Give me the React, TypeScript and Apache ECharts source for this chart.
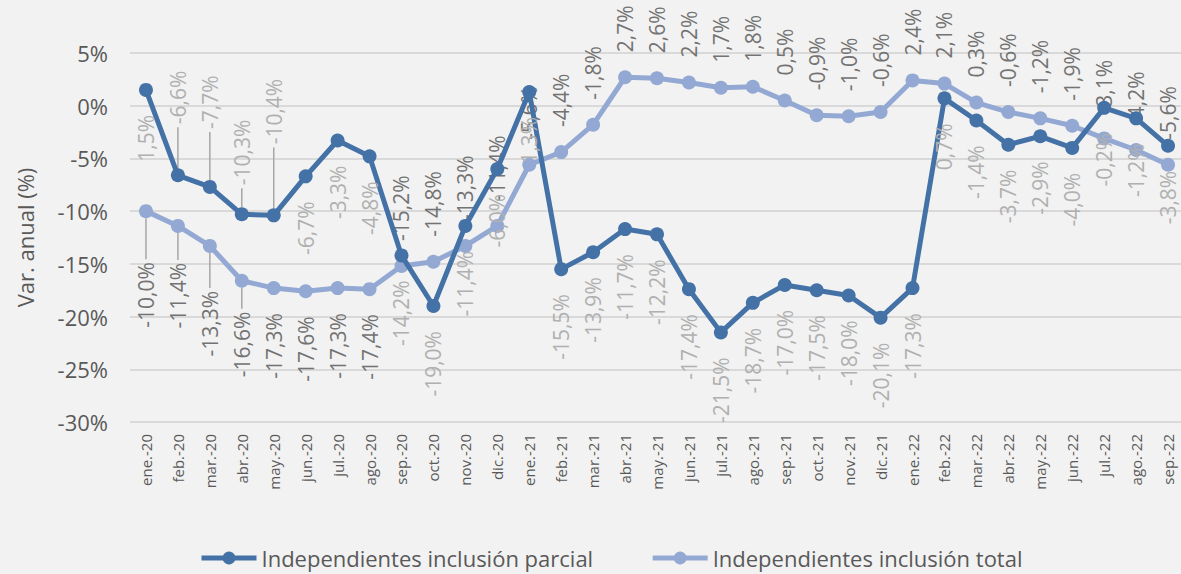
import React, { useEffect, useRef } from "react";
import * as echarts from "echarts";

const categories = [
  "ene.-20", "feb.-20", "mar.-20", "abr.-20", "may.-20", "jun.-20", "jul.-20", "ago.-20", "sep.-20", "oct.-20", "nov.-20", "dic.-20",
  "ene.-21", "feb.-21", "mar.-21", "abr.-21", "may.-21", "jun.-21", "jul.-21", "ago.-21", "sep.-21", "oct.-21", "nov.-21", "dic.-21",
  "ene.-22", "feb.-22", "mar.-22", "abr.-22", "may.-22", "jun.-22", "jul.-22", "ago.-22", "sep.-22",
];

const parcialName = "Independientes inclusión parcial";
const totalName = "Independientes inclusión total";

const parcial = [
  1.5, -6.6, -7.7, -10.3, -10.4, -6.7, -3.3, -4.8, -14.2, -19.0, -11.4, -6.0,
  1.3, -15.5, -13.9, -11.7, -12.2, -17.4, -21.5, -18.7, -17.0, -17.5, -18.0, -20.1,
  -17.3, 0.7, -1.4, -3.7, -2.9, -4.0, -0.2, -1.2, -3.8,
];

const total = [
  -10.0, -11.4, -13.3, -16.6, -17.3, -17.6, -17.3, -17.4, -15.2, -14.8, -13.3, -11.4,
  -5.6, -4.4, -1.8, 2.7, 2.6, 2.2, 1.7, 1.8, 0.5, -0.9, -1.0, -0.6,
  2.4, 2.1, 0.3, -0.6, -1.2, -1.9, -3.1, -4.2, -5.6,
];

const yTicks = { min: -30, max: 5, interval: 5 };

// label placement config (layout only)
const BASE_DIST = 18;
const SYMBOL = 14;
const parcialAboveIdx = [1, 2, 3, 4];
const parcialExtra: Record<number, number> = { 1: 26, 2: 33, 3: 4, 4: 46 };
const totalBelowIdx = [0, 1, 2, 3, 4, 5, 6, 7];
const totalExtra: Record<number, number> = { 0: 26, 1: 12, 2: 20, 3: 6 };

const FONT = "'Open Sans', 'Noto Sans', sans-serif";
const DARK = "#4472a6";
const LIGHT = "#93a9d3";

const fmt = (v: number) => v.toFixed(1).replace(".", ",") + "%";

function makeData(values: number[], isAbove: (i: number) => boolean, extra: Record<number, number>) {
  return values.map((v, i) => {
    const above = isAbove(i);
    return {
      value: v,
      label: {
        position: above ? "top" : "bottom",
        align: above ? "left" : "right",
        verticalAlign: "middle",
        distance: BASE_DIST + (extra[i] || 0),
      },
    };
  });
}

function makeLeaders(values: number[], isAbove: (i: number) => boolean, extra: Record<number, number>) {
  return Object.keys(extra).map((k) => {
    const i = Number(k);
    const len = SYMBOL / 2 + BASE_DIST + extra[i] - 3;
    return [i, values[i], isAbove(i) ? -len : len];
  });
}

export default function App() {
  const ref = useRef<HTMLDivElement>(null);
  useEffect(() => {
    if (!ref.current) return;
    const chart = echarts.init(ref.current, undefined, { renderer: "svg" });
    const labelBase = {
      show: true,
      rotate: 90,
      fontSize: 21,
      fontFamily: FONT,
      formatter: (p: any) => fmt(p.value),
    };
    const parcialAbove = (i: number) => parcialAboveIdx.includes(i);
    const totalAbove = (i: number) => !totalBelowIdx.includes(i);
    const leaderData = [
      ...makeLeaders(parcial, parcialAbove, parcialExtra),
      ...makeLeaders(total, totalAbove, totalExtra),
    ];
    chart.setOption({
      animation: false,
      backgroundColor: "#f2f2f2",
      textStyle: { fontFamily: FONT },
      grid: { left: 130, right: -3, top: 53, bottom: 152, outerBoundsMode: "none" },
      legend: {
        data: [parcialName, totalName],
        left: 194,
        top: 542,
        itemWidth: 55,
        itemHeight: 16,
        itemGap: 57,
        lineStyle: { width: 5 },
        textStyle: { fontSize: 22, color: "#595959", fontFamily: FONT },
      },
      xAxis: {
        type: "category",
        data: categories,
        boundaryGap: true,
        axisLine: { show: false },
        axisTick: { show: false },
        axisLabel: {
          interval: 0,
          rotate: 90,
          fontSize: 15,
          color: "#595959",
          margin: 12,
          hideOverlap: false,
          fontFamily: FONT,
        },
      },
      yAxis: {
        type: "value",
        min: yTicks.min,
        max: yTicks.max,
        interval: yTicks.interval,
        name: "Var. anual (%)",
        nameLocation: "middle",
        nameGap: 94,
        nameTextStyle: { fontSize: 22, color: "#595959", fontFamily: FONT },
        axisLabel: {
          formatter: (v: number) => v + "%",
          fontSize: 22,
          color: "#595959",
          margin: 22,
          fontFamily: FONT,
        },
        splitLine: { lineStyle: { color: "#d9d9d9", width: 2 } },
      },
      series: [
        {
          type: "custom",
          name: "leaders",
          z: 1,
          silent: true,
          data: leaderData,
          renderItem: (params: any, api: any) => {
            const p = api.coord([api.value(0), api.value(1)]);
            const len = api.value(2);
            const s = len < 0 ? -1 : 1;
            return {
              type: "line",
              shape: { x1: p[0], y1: p[1] + s * (SYMBOL / 2), x2: p[0], y2: p[1] + len },
              style: { stroke: "#a6a6a6", lineWidth: 1.5 },
            };
          },
        },
        {
          name: totalName,
          type: "line",
          z: 2,
          data: makeData(total, totalAbove, totalExtra),
          symbol: "circle",
          symbolSize: SYMBOL,
          lineStyle: { color: LIGHT, width: 5 },
          itemStyle: { color: LIGHT },
          label: { ...labelBase, color: "#737373" },
        },
        {
          name: parcialName,
          type: "line",
          z: 3,
          data: makeData(parcial, parcialAbove, parcialExtra),
          symbol: "circle",
          symbolSize: SYMBOL,
          lineStyle: { color: DARK, width: 5 },
          itemStyle: { color: DARK },
          label: { ...labelBase, color: "#b0b0b0" },
        },
      ],
    });
    return () => chart.dispose();
  }, []);
  return (
    <div
      ref={ref}
      style={{ position: "absolute", left: 0, top: 0, width: 1181, height: 574 }}
    />
  );
}
